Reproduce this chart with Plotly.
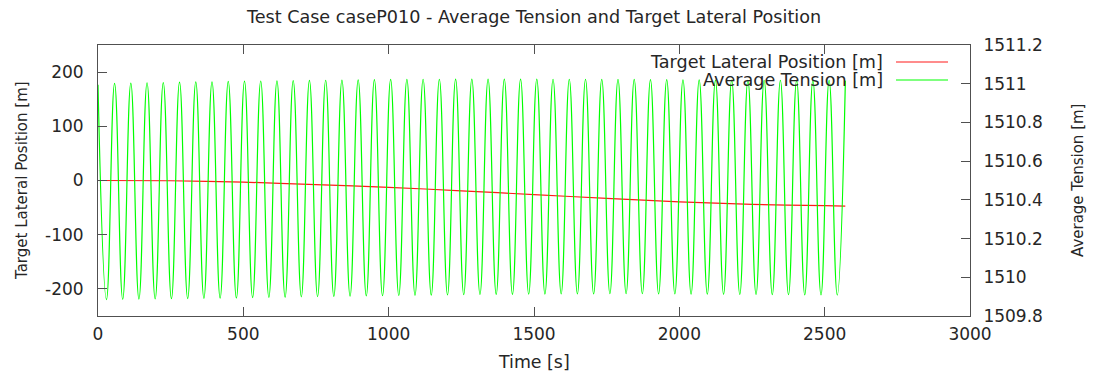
import plotly.graph_objects as go

# Target lateral position [m] (left axis)
pos_time = [0, 250, 500, 750, 1000, 1250, 1500, 1750, 2000, 2250, 2500, 2571]
pos_value = [0.0, -0.5, -3.0, -7.5, -12.5, -19.0, -26.0, -33.0, -39.5, -44.0, -46.5, -47.3]

# Average tension [m] (right axis): start value, then alternating troughs and peaks
tension_time = [
    0.0,
    29.1, 57.0, 85.0, 112.9, 140.8, 168.7, 196.7, 224.6, 252.6, 280.5,
    308.5, 336.4, 364.3, 392.2, 420.2, 448.1, 476.1, 504.0, 531.9, 559.8,
    587.8, 615.7, 643.7, 671.6, 699.5, 727.4, 755.4, 783.3, 811.3, 839.2,
    867.2, 895.1, 923.0, 950.9, 978.9, 1006.8, 1034.8, 1062.7, 1090.6, 1118.5,
    1146.5, 1174.4, 1202.4, 1230.3, 1258.2, 1286.1, 1314.1, 1342.0, 1370.0, 1397.9,
    1425.9, 1453.8, 1481.7, 1509.6, 1537.6, 1565.5, 1593.5, 1621.4, 1649.3, 1677.2,
    1705.2, 1733.1, 1761.1, 1789.0, 1816.9, 1844.8, 1872.8, 1900.7, 1928.7, 1956.6,
    1984.6, 2012.5, 2040.4, 2068.3, 2096.3, 2124.2, 2152.2, 2180.1, 2208.0, 2235.9,
    2263.9, 2291.8, 2319.8, 2347.7, 2375.6, 2403.5, 2431.5, 2459.4, 2487.4, 2515.3,
    2543.3, 2571.2,
]
tension_value = [
    1510.995,
    1509.885, 1511.002, 1509.886, 1511.003, 1509.887, 1511.005, 1509.888, 1511.006, 1509.889, 1511.008,
    1509.890, 1511.009, 1509.891, 1511.010, 1509.892, 1511.012, 1509.893, 1511.013, 1509.895, 1511.014,
    1509.896, 1511.015, 1509.897, 1511.016, 1509.899, 1511.017, 1509.900, 1511.018, 1509.901, 1511.019,
    1509.902, 1511.020, 1509.904, 1511.021, 1509.905, 1511.022, 1509.906, 1511.022, 1509.907, 1511.023,
    1509.908, 1511.023, 1509.909, 1511.024, 1509.910, 1511.024, 1509.911, 1511.024, 1509.912, 1511.024,
    1509.912, 1511.024, 1509.913, 1511.024, 1509.913, 1511.023, 1509.914, 1511.023, 1509.914, 1511.023,
    1509.914, 1511.022, 1509.915, 1511.022, 1509.915, 1511.022, 1509.915, 1511.021, 1509.914, 1511.021,
    1509.914, 1511.020, 1509.913, 1511.020, 1509.913, 1511.019, 1509.912, 1511.019, 1509.911, 1511.018,
    1509.911, 1511.018, 1509.910, 1511.018, 1509.910, 1511.017, 1509.909, 1511.017, 1509.909, 1511.017,
    1509.908, 1511.016,
]

x_ticks = [0, 500, 1000, 1500, 2000, 2500, 3000]
y_ticks = [-200, -100, 0, 100, 200]
y_tick_text = ["-200", "-100", "0", "100", "200"]
y2_ticks = [1509.8, 1510.0, 1510.2, 1510.4, 1510.6, 1510.8, 1511.0, 1511.2]
y2_tick_text = ["1509.8", "1510", "1510.2", "1510.4", "1510.6", "1510.8", "1511", "1511.2"]

FONT = "DejaVu Sans"
TXT = "#262626"
FRAME = "#505050"
RED = "#ff1a1a"
GREEN = "#00ff00"

fig = go.Figure()
fig.add_trace(go.Scatter(
    x=pos_time, y=pos_value, mode="lines", yaxis="y",
    line=dict(color=RED, width=1.2, shape="spline", smoothing=0.6),
    name="Target Lateral Position [m]", showlegend=False,
))
fig.add_trace(go.Scatter(
    x=tension_time, y=tension_value, mode="lines", yaxis="y2",
    line=dict(color=GREEN, width=1.2, shape="spline", smoothing=1.3),
    name="Average Tension [m]", showlegend=False,
))

W, H = 1095, 371
L, R, T, B = 98, 125, 45, 55
pw, ph = W - L - R, H - T - B


def px_x(px):
    return (px - L) / pw


def px_y(py):
    return (H - B - py) / ph


axis_common = dict(
    showgrid=False, zeroline=False, ticks="inside", ticklen=9, tickwidth=1,
    tickcolor=FRAME, linecolor=FRAME, linewidth=1, showline=True,
    tickfont=dict(family=FONT, size=17, color=TXT),
)

fig.update_layout(
    width=W, height=H,
    margin=dict(l=L, r=R, t=T, b=B),
    paper_bgcolor="white", plot_bgcolor="white",
    font=dict(family=FONT, color=TXT),
    title=dict(
        text="Test Case caseP010 - Average Tension and Target Lateral Position",
        x=534 / W, xanchor="center", y=1 - 17 / H, yanchor="middle",
        font=dict(family=FONT, size=17.6, color=TXT),
    ),
    xaxis=dict(range=[0, 3000], tickvals=x_ticks, mirror="ticks",
               ticklabelstandoff=3, **axis_common),
    yaxis=dict(range=[-250, 250], tickvals=y_ticks, ticktext=y_tick_text, mirror=True,
               ticklabelstandoff=10, **axis_common),
    yaxis2=dict(range=[1509.8, 1511.2], tickvals=y2_ticks, ticktext=y2_tick_text,
                overlaying="y", side="right", ticklabelstandoff=9, **axis_common),
)

# Axis titles
fig.add_annotation(xref="paper", yref="paper", x=px_x(534), y=px_y(362),
                   xanchor="center", yanchor="middle", text="Time [s]", showarrow=False,
                   font=dict(family=FONT, size=17.4, color=TXT))
fig.add_annotation(xref="paper", yref="paper", x=px_x(22), y=px_y(181),
                   xanchor="center", yanchor="middle", textangle=-90,
                   text="Target Lateral Position [m]", showarrow=False,
                   font=dict(family=FONT, size=15, color=TXT))
fig.add_annotation(xref="paper", yref="paper", x=px_x(1078), y=px_y(181),
                   xanchor="center", yanchor="middle", textangle=-90,
                   text="Average Tension [m]", showarrow=False,
                   font=dict(family=FONT, size=15, color=TXT))

# Key in the top-right corner: label on the left, line sample on the right
legend_rows = [("Target Lateral Position [m]", RED, 62), ("Average Tension [m]", GREEN, 80)]
for label, color, py in legend_rows:
    fig.add_annotation(
        xref="paper", yref="paper", x=px_x(885), y=px_y(py),
        xanchor="right", yanchor="middle", text=label, showarrow=False,
        font=dict(family=FONT, size=17.6, color=TXT),
    )
    fig.add_shape(
        type="line", xref="paper", yref="paper",
        x0=px_x(896), x1=px_x(948), y0=px_y(py), y1=px_y(py),
        line=dict(color=color, width=1.2),
    )

fig.write_html("out.html")
